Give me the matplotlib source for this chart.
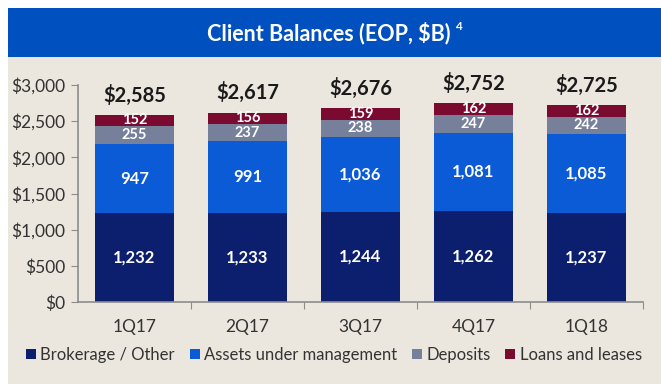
#!/usr/bin/env python3

import matplotlib.pyplot as plt
from matplotlib.patches import Rectangle

quarters = ["1Q17", "2Q17", "3Q17", "4Q17", "1Q18"]
brokerage = [1232, 1233, 1244, 1262, 1237]
aum = [947, 991, 1036, 1081, 1085]
deposits = [255, 237, 238, 247, 242]
loans = [152, 156, 159, 162, 162]
totals = [2585, 2617, 2676, 2752, 2725]

# name, values, colour, label size
series = [
    ("Brokerage / Other", brokerage, "#0b1f6e", 12),
    ("Assets under management", aum, "#0b5ad6", 12),
    ("Deposits", deposits, "#76809a", 10.5),
    ("Loans and leases", loans, "#7b0a30", 10.5),
]

plt.rcParams["font.family"] = ["Lato", "DejaVu Sans"]

fig = plt.figure(figsize=(6.61, 3.84), dpi=100)
fig.patch.set_facecolor("white")

# background panel and title band
fig.add_artist(Rectangle((8 / 661, 0), 1, 1 - 57 / 384, transform=fig.transFigure,
                         facecolor="#ebe7df", edgecolor="none", zorder=0))
fig.add_artist(Rectangle((8 / 661, 1 - 57 / 384), 1, 49 / 384, transform=fig.transFigure,
                         facecolor="#0050c0", edgecolor="none", zorder=0))
fig.text(0.497, 1 - 33 / 384, "Client Balances (EOP, $B)", color="white",
         fontsize=15.5, fontweight="bold", ha="center", va="center")
fig.text(0.689, 1 - 26 / 384, "4", color="white", fontsize=8.5, fontweight="bold",
         ha="left", va="center")

ax = fig.add_axes([78 / 661, 1 - 302 / 384, (643 - 78) / 661, (302 - 85) / 384])
ax.set_facecolor("none")

x = range(len(quarters))
bottom = [0] * len(quarters)
for name, vals, color, size in series:
    ax.bar(x, vals, width=0.7, bottom=bottom, color=color, label=name, zorder=2)
    for i, v in enumerate(vals):
        ax.text(i, bottom[i] + v / 2, f"{v:,}", color="white", fontsize=size,
                fontweight="bold", ha="center", va="center", zorder=3)
    bottom = [b + v for b, v in zip(bottom, vals)]

for i, t in enumerate(totals):
    ax.text(i, t + 130, f"${t:,}", color="#1a1a1a", fontsize=14.5,
            fontweight="bold", ha="center", va="bottom")

ax.set_xlim(-0.5, 4.5)
ax.set_ylim(0, 3000)
ax.set_yticks(range(0, 3001, 500))
ax.set_yticklabels([f"${v:,}" for v in range(0, 3001, 500)], fontsize=12.5,
                   color="#333333")
ax.set_xticks([i + 0.5 for i in range(len(quarters))])
ax.set_xticklabels([])
ax.set_xticks(list(x), minor=True)
ax.set_xticklabels(quarters, minor=True, fontsize=12.5, color="#333333")
ax.tick_params(axis="x", which="minor", length=0, pad=12)
ax.tick_params(axis="x", which="major", length=5, color="#8c8c8c")
ax.tick_params(axis="y", length=5, color="#8c8c8c", pad=4)

for side in ["top", "right"]:
    ax.spines[side].set_visible(False)
for side in ["left", "bottom"]:
    ax.spines[side].set_color("#8c8c8c")
    ax.spines[side].set_linewidth(1.2)

fig.legend(loc="center", bbox_to_anchor=(0.505, 1 - 355 / 384), ncol=4,
           frameon=False, fontsize=12, handlelength=0.6, handleheight=0.6,
           handletextpad=0.25, columnspacing=0.9, labelcolor="#333333")

fig.savefig("out.png", dpi=100)
